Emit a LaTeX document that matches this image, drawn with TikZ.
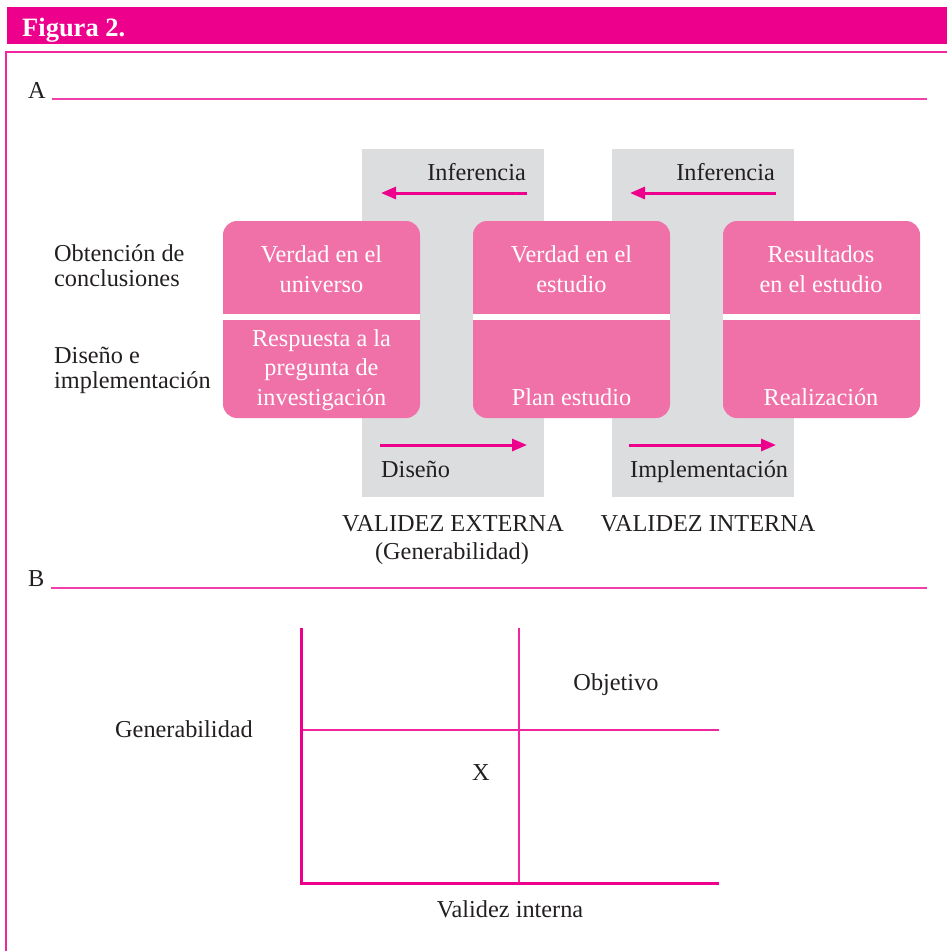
\documentclass[tikz,border=0pt]{standalone}
\usepackage{fontspec}
\setmainfont{Liberation Serif}
\usetikzlibrary{arrows.meta}
\definecolor{mag}{HTML}{EC008C}
\definecolor{rosa}{HTML}{F071A8}
\definecolor{gris}{HTML}{DCDDDF}
\definecolor{tinta}{HTML}{231F20}
\begin{document}
\begin{tikzpicture}[x=1pt,y=-1pt,
  txt/.style={text=tinta, font=\fontsize{24.3}{24.2}\selectfont, inner sep=0pt},
  boxtxt/.style={text=white, font=\fontsize{24.3}{29.5}\selectfont, inner sep=0pt, align=center, anchor=base},
  flecha/.style={draw=mag, line width=3pt, -{Triangle[length=15pt,width=12pt]}},
  regla/.style={draw=mag!75!white, line width=1.5pt},
  caja/.style={fill=rosa, rounded corners=14pt},
  columna/.style={fill=gris},
  eje/.style={draw=mag, line width=3pt},
  guia/.style={draw=mag!85!white, line width=1.5pt}]
\useasboundingbox (0,0) rectangle (947,951);
\clip (0,0) rectangle (947,951);

% title bar and frame
\fill[mag] (7,7) rectangle (960,44);
\node[anchor=base west, inner sep=0pt, text=white, font=\bfseries\fontsize{26.5}{26.5}\selectfont] (titulo) at (22,36) {Figura 2.};
\draw[draw=mag!85!white, line width=2pt] (6,970) -- (6,52) -- (960,52);

% section A heading
\node[txt, anchor=base west] (A) at (28,98) {A};
\coordinate (A0) at (52,99);
\coordinate (A1) at (927,99);
\draw[regla] (A0) -- (A1);

% grey validity columns
\fill[columna] (362,149) rectangle (544,497);
\fill[columna] (612,149) rectangle (794,497);

% inference arrows
\node[txt, anchor=base east] (inf1) at (526,180) {Inferencia};
\node[txt, anchor=base east] (inf2) at (775,180) {Inferencia};
\coordinate (i1a) at (527,193); \coordinate (i1b) at (381,193);
\coordinate (i2a) at (776,193); \coordinate (i2b) at (630,193);
\draw[flecha] (i1a) -- (i1b);
\draw[flecha] (i2a) -- (i2b);

% pink boxes
\foreach \x in {223,473,723}{
  \fill[caja] (\x,221) rectangle ++(197,197);
  \fill[white] (\x,313.5) rectangle ++(197,6.5);
}

% box texts (base anchor sits on the last line)
\node[boxtxt] (v1) at (321.5,292) {Verdad en el\\universo};
\node[boxtxt] (r1) at (321.5,405) {Respuesta a la\\pregunta de\\investigación};
\node[boxtxt] (v2) at (571.5,292) {Verdad en el\\estudio};
\node[boxtxt] (p2) at (571.5,405) {Plan estudio};
\node[boxtxt] (v3) at (821,292) {Resultados\\en el estudio};
\node[boxtxt] (p3) at (821,405) {Realización};

% row labels
\node[txt, anchor=base west, align=left] (obt) at (54,286) {Obtención de\\conclusiones};
\node[txt, anchor=base west, align=left] (dis) at (54,388) {Diseño e\\implementación};

% design / implementation arrows
\coordinate (d1a) at (380,445); \coordinate (d1b) at (527,445);
\coordinate (d2a) at (629,445); \coordinate (d2b) at (776,445);
\draw[flecha] (d1a) -- (d1b);
\draw[flecha] (d2a) -- (d2b);
\node[txt, anchor=base west] (dsn) at (381,477) {Diseño};
\node[txt, anchor=base west] (imp) at (630,477) {Implementación};

% column captions
\node[txt, anchor=base] (ve) at (453,531) {VALIDEZ EXTERNA};
\node[txt, anchor=base] (gen) at (452,559) {(Generabilidad)};
\node[txt, anchor=base] (vi) at (708,531) {VALIDEZ INTERNA};

% section B heading
\node[txt, anchor=base west] (B) at (28,586) {B};
\coordinate (B0) at (51,588);
\coordinate (B1) at (927,588);
\draw[regla] (B0) -- (B1);

% quadrant chart
\coordinate (o) at (301,883);
\coordinate (ytop) at (301,628);
\coordinate (xend) at (719,883);
\coordinate (hl) at (301,730);
\coordinate (hr) at (719,730);
\coordinate (vt) at (519,628);
\coordinate (vb) at (519,883);
\draw[guia] (hl) -- (hr);
\draw[guia] (vt) -- (vb);
\draw[eje] (ytop) -- (o) -- (xend);
\node[txt, anchor=base] (obj) at (616,690) {Objetivo};
\node[txt, anchor=base] (xm) at (481,780) {X};
\node[txt, anchor=base] (gy) at (184,737) {Generabilidad};
\node[txt, anchor=base] (vx) at (510,917) {Validez interna};
\end{tikzpicture}
\end{document}
